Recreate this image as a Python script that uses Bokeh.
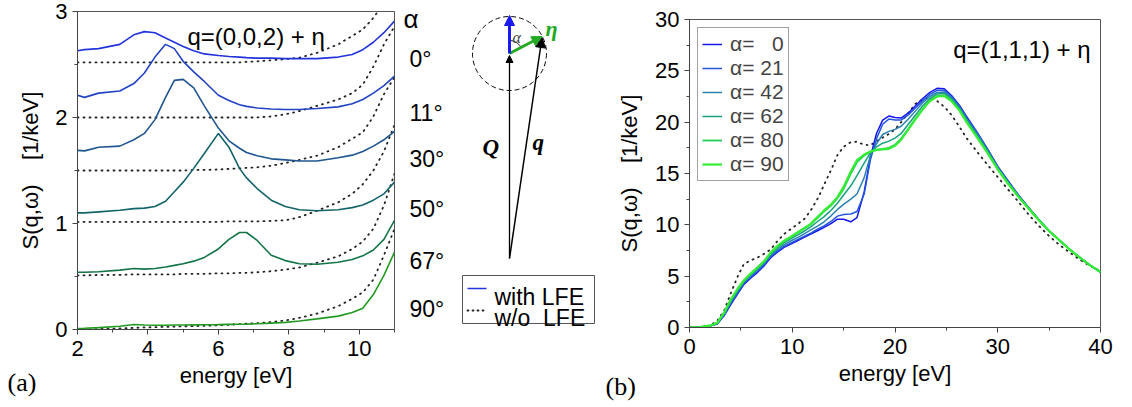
from bokeh.plotting import figure
from bokeh.layouts import row, column
from bokeh.models import Range1d, Arrow, NormalHead, Legend, LegendItem, FixedTicker
from bokeh.embed import file_html
from bokeh.resources import INLINE
from bokeh.core.properties import value
import numpy as np

SANS = "Liberation Sans"
SERIF = "Liberation Serif"

# ---------------- panel (a): q=(0,0,2)+eta ----------------
E_A = [2.0, 2.2, 2.6, 3.2, 3.6, 3.9, 4.2, 4.5, 4.75, 5.0, 5.3, 5.6, 6.0, 6.3, 6.6,
       6.8, 7.1, 7.5, 7.9, 8.3, 8.8, 9.4, 9.8, 10.1, 10.4, 10.7, 11.0]

LFE_0 = [2.63, 2.64, 2.65, 2.69, 2.78, 2.81, 2.80, 2.75, 2.71, 2.67, 2.63, 2.60, 2.585, 2.575, 2.57,
         2.565, 2.56, 2.56, 2.555, 2.555, 2.555, 2.57, 2.595, 2.64, 2.71, 2.80, 2.91]
NOLFE_0 = [2.52, 2.52, 2.52, 2.52, 2.52, 2.52, 2.52, 2.52, 2.52, 2.52, 2.52, 2.52, 2.52, 2.52, 2.52,
           2.525, 2.53, 2.54, 2.55, 2.565, 2.61, 2.69, 2.77, 2.83, 2.94, 3.08, 3.2]
LFE_11 = [2.21, 2.19, 2.23, 2.25, 2.32, 2.42, 2.57, 2.69, 2.65, 2.53, 2.43, 2.34, 2.21, 2.16, 2.12,
          2.105, 2.09, 2.08, 2.075, 2.075, 2.085, 2.10, 2.13, 2.17, 2.23, 2.30, 2.39]
NOLFE_11 = [2.0, 2.0, 2.0, 2.0, 2.0, 2.0, 2.0, 2.0, 2.0, 2.0, 2.0, 2.0, 2.0, 2.0, 2.0,
            2.0, 2.0, 2.01, 2.03, 2.06, 2.11, 2.17, 2.23, 2.31, 2.48, 2.69, 2.86]
LFE_30 = [1.69, 1.685, 1.72, 1.73, 1.79, 1.85, 1.98, 2.19, 2.35, 2.36, 2.28, 2.11, 1.90, 1.78, 1.71,
          1.67, 1.64, 1.61, 1.60, 1.59, 1.59, 1.62, 1.645, 1.68, 1.73, 1.79, 1.87]
NOLFE_30 = [1.5, 1.5, 1.5, 1.5, 1.5, 1.5, 1.5, 1.5, 1.5, 1.5, 1.505, 1.505, 1.51, 1.515, 1.52,
            1.525, 1.53, 1.545, 1.57, 1.6, 1.64, 1.72, 1.8, 1.86, 2.01, 2.22, 2.38]
LFE_50 = [1.10, 1.10, 1.11, 1.125, 1.14, 1.145, 1.16, 1.21, 1.30, 1.39, 1.52, 1.66, 1.85, 1.72, 1.52,
          1.43, 1.33, 1.22, 1.16, 1.13, 1.12, 1.13, 1.15, 1.175, 1.22, 1.28, 1.39]
NOLFE_50 = [1.015, 1.015, 1.015, 1.015, 1.015, 1.015, 1.015, 1.015, 1.015, 1.015, 1.015, 1.015, 1.015, 1.02, 1.02,
            1.02, 1.02, 1.025, 1.03, 1.06, 1.12, 1.2, 1.28, 1.37, 1.5, 1.68, 1.93]
LFE_67 = [0.54, 0.54, 0.545, 0.56, 0.575, 0.57, 0.575, 0.59, 0.605, 0.62, 0.645, 0.68, 0.76, 0.85, 0.915,
          0.915, 0.84, 0.70, 0.65, 0.62, 0.615, 0.635, 0.66, 0.695, 0.75, 0.85, 1.03]
NOLFE_67 = [0.51, 0.51, 0.515, 0.515, 0.52, 0.52, 0.52, 0.52, 0.52, 0.525, 0.525, 0.525, 0.53, 0.53, 0.535,
            0.535, 0.54, 0.55, 0.565, 0.585, 0.63, 0.69, 0.76, 0.83, 0.95, 1.17, 1.47]
LFE_90 = [0.01, 0.012, 0.018, 0.03, 0.047, 0.042, 0.04, 0.04, 0.042, 0.043, 0.044, 0.045, 0.046, 0.048, 0.05,
          0.051, 0.054, 0.06, 0.067, 0.08, 0.1, 0.126, 0.16, 0.2, 0.33, 0.51, 0.73]
NOLFE_90 = [0.0, 0.0, 0.005, 0.01, 0.015, 0.02, 0.022, 0.025, 0.027, 0.03, 0.032, 0.035, 0.04, 0.045, 0.05,
            0.055, 0.06, 0.07, 0.085, 0.11, 0.15, 0.22, 0.29, 0.35, 0.47, 0.7, 0.95]

ANGLE_LABELS = ["0°", "11°", "30°", "50°", "67°", "90°"]
COLORS_A = ["#2233dd", "#2244c4", "#1f5590", "#136468", "#137448", "#229a22"]
LFE_A = [LFE_0, LFE_11, LFE_30, LFE_50, LFE_67, LFE_90]
NOLFE_A = [NOLFE_0, NOLFE_11, NOLFE_30, NOLFE_50, NOLFE_67, NOLFE_90]

# ---------------- panel (b): q=(1,1,1)+eta ----------------
E_B = [0, 1, 2, 2.7, 3.4, 4, 4.7, 5.3, 6, 6.6, 7.3, 7.9, 8.5, 9.2, 9.8, 10.5, 11.2, 11.8, 12.5, 13.1,
       13.8, 14.4, 15, 15.7, 16.3, 17, 17.6, 18.2, 18.8, 19.4, 20, 20.6, 21.3, 22, 22.7, 23.4, 24.1, 24.8,
       25.5, 26.3, 27, 28, 29, 30, 31, 32, 33, 34, 35, 36, 37, 38, 39, 40]

B_A0 = [0, 0.02, 0.15, 0.35, 1.2, 2.2, 3.3, 4.2, 4.85, 5.35, 6.05, 6.8, 7.3, 7.8, 8.1, 8.45, 8.8, 9.1, 9.45, 9.75,
        10.15, 10.55, 10.55, 10.3, 10.7, 13.2, 16.6, 18.9, 20.2, 20.6, 20.45, 20.4, 20.9, 21.6, 22.3, 22.9, 23.3, 23.25,
        22.6, 21.6, 20.5, 19.0, 17.4, 15.7, 14.3, 12.9, 11.7, 10.5, 9.4, 8.5, 7.6, 6.8, 6.05, 5.4]
B_A21 = [0, 0.02, 0.16, 0.37, 1.25, 2.3, 3.4, 4.3, 4.95, 5.45, 6.15, 6.9, 7.4, 7.9, 8.2, 8.55, 8.9, 9.2, 9.6, 9.9,
         10.35, 10.85, 11.0, 11.05, 11.3, 13.0, 16.3, 18.4, 19.8, 20.3, 20.2, 20.2, 20.7, 21.4, 22.1, 22.7, 23.1, 23.1,
         22.5, 21.5, 20.4, 18.95, 17.35, 15.65, 14.25, 12.9, 11.7, 10.5, 9.4, 8.5, 7.6, 6.8, 6.05, 5.4]
B_A42 = [0, 0.02, 0.16, 0.4, 1.35, 2.45, 3.55, 4.45, 5.1, 5.6, 6.3, 7.05, 7.55, 8.05, 8.4, 8.75, 9.15, 9.5, 9.9, 10.3,
         10.9, 11.5, 12.0, 12.5, 13.0, 14.6, 16.7, 17.9, 18.8, 19.1, 19.3, 19.6, 20.3, 21.1, 21.9, 22.5, 22.9, 22.95,
         22.4, 21.4, 20.3, 18.85, 17.3, 15.6, 14.2, 12.85, 11.65, 10.5, 9.4, 8.5, 7.6, 6.8, 6.05, 5.4]
B_A62 = [0, 0.03, 0.17, 0.42, 1.42, 2.55, 3.65, 4.5, 5.2, 5.72, 6.4, 7.15, 7.7, 8.25, 8.6, 9.0, 9.4, 9.8, 10.35, 10.8,
         11.45, 12.1, 12.9, 13.8, 14.8, 16.0, 17.0, 17.6, 17.95, 18.15, 18.45, 18.9, 19.8, 20.7, 21.6, 22.3, 22.75, 22.8,
         22.25, 21.3, 20.15, 18.7, 17.15, 15.5, 14.1, 12.8, 11.6, 10.45, 9.4, 8.5, 7.6, 6.8, 6.05, 5.4]
B_A80 = [0, 0.03, 0.18, 0.44, 1.48, 2.65, 3.75, 4.55, 5.25, 5.8, 6.45, 7.25, 7.85, 8.4, 8.75, 9.2, 9.65, 10.05, 10.7, 11.3,
         11.9, 12.6, 13.5, 15.0, 16.1, 16.75, 17.1, 17.3, 17.4, 17.5, 17.8, 18.4, 19.35, 20.35, 21.3, 22.1, 22.55, 22.6,
         22.1, 21.15, 20.0, 18.55, 17.05, 15.45, 14.05, 12.75, 11.6, 10.45, 9.4, 8.5, 7.6, 6.8, 6.05, 5.4]
B_A90 = [0, 0.03, 0.18, 0.45, 1.5, 2.7, 3.8, 4.6, 5.3, 5.85, 6.5, 7.3, 7.9, 8.45, 8.8, 9.25, 9.7, 10.1, 10.8, 11.4,
         12.0, 12.7, 13.7, 15.2, 16.3, 16.85, 17.15, 17.3, 17.35, 17.4, 17.7, 18.3, 19.3, 20.3, 21.25, 22.05, 22.5, 22.55,
         22.05, 21.1, 19.95, 18.5, 17.0, 15.4, 14.0, 12.75, 11.6, 10.45, 9.4, 8.5, 7.6, 6.8, 6.05, 5.4]
B_NOLFE = [0, 0.02, 0.2, 0.65, 1.7, 3.3, 5.0, 6.2, 6.55, 6.8, 7.2, 7.6, 8.35, 9.1, 9.55, 10.05, 10.6, 11.4, 12.6, 13.9,
           15.4, 16.8, 17.6, 18.05, 18.1, 17.8, 17.75, 18.15, 18.5, 18.85, 19.3, 20.0, 20.9, 21.8, 22.25, 22.35, 22.05, 21.5,
           20.7, 19.5, 18.4, 17.1, 15.85, 14.65, 13.45, 12.25, 11.0, 9.9, 8.9, 8.05, 7.3, 6.6, 6.0, 5.5]

ALPHA_LABELS = ["α=\u00a0\u00a0\u00a00", "α= 21", "α= 42", "α= 62", "α= 80", "α= 90"]
COLORS_B = ["#1515ee", "#2456dd", "#2a80b0", "#15a07c", "#22cc55", "#33ee33"]
WIDTHS_B = [1.5, 1.5, 1.5, 1.5, 1.8, 2.2]
SERIES_B = [B_A0, B_A21, B_A42, B_A62, B_A80, B_A90]

Y_LABEL = "S(q,ω)\u00a0\u00a0\u00a0\u00a0[1/keV]"
X_LABEL = "energy [eV]"
DOT = "1 5"
H = 406


def style(p):
    p.xgrid.visible = False
    p.ygrid.visible = False
    p.outline_line_color = "#555555"
    p.outline_line_width = 1
    for ax in (p.xaxis[0], p.yaxis[0]):
        ax.axis_line_color = "#444444"
        ax.major_tick_line_color = "#444444"
        ax.minor_tick_line_color = "#444444"
        ax.major_tick_out = 5
        ax.major_tick_in = 0
        ax.minor_tick_out = 3
        ax.minor_tick_in = 0
        ax.major_label_text_font = SANS
        ax.major_label_text_font_size = "22px"
        ax.major_label_text_color = "black"
        ax.axis_label_text_font = SANS
        ax.axis_label_text_font_size = "22px"
        ax.axis_label_text_font_style = "normal"
        ax.axis_label_text_color = "black"


def blank(width, x0):
    p = figure(width=width, height=H, x_range=Range1d(x0, x0 + width), y_range=Range1d(H, 0),
               x_axis_type=None, y_axis_type=None, output_backend="svg", toolbar_location=None,
               min_border=0)
    p.outline_line_color = None
    p.xgrid.visible = False
    p.ygrid.visible = False
    return p


# ---------------- strip left of (a): y label and "(a)" ----------------
pl = blank(45, 0)
pl.text(x=[30], y=[170], text=[Y_LABEL], angle=np.pi / 2, text_font=value(SANS), text_font_size="22px",
        text_align="center", text_baseline="middle", text_color="black")
pl.text(x=[7], y=[382], text=["(a)"], text_font=value(SERIF), text_font_size="26px",
        text_align="left", text_baseline="middle", text_color="black")

# ---------------- figure (a) ----------------
pa = figure(width=355, height=H, x_range=Range1d(2, 11), y_range=Range1d(0, 3),
            output_backend="svg", toolbar_location=None,
            min_border_left=32, min_border_right=6, min_border_top=11, min_border_bottom=77)
style(pa)
pa.xaxis.ticker = FixedTicker(ticks=[2, 4, 6, 8, 10], minor_ticks=[3, 5, 7, 9, 11])
pa.yaxis.ticker = FixedTicker(ticks=[0, 1, 2, 3], minor_ticks=[0.5, 1.5, 2.5])
pa.xaxis.axis_label = X_LABEL
pa.xaxis.major_label_standoff = 6
pa.yaxis.major_label_standoff = 5
pa.xaxis.axis_label_standoff = 4

for nl in NOLFE_A:
    pa.line(E_A, nl, line_color="#222222", line_width=1.8, line_dash=DOT, line_cap="round")
for s, c in zip(LFE_A, COLORS_A):
    pa.line(E_A, s, line_color=c, line_width=1.6)

pa.text(x=[5.12], y=[2.767], text=["q=(0,0,2) + η"], text_font=value(SANS), text_font_size="24px",
        text_baseline="alphabetic", text_align="left", text_color="black")

# ---------------- middle: angle labels, sketch, legend, (b) y label ----------------
pm = blank(245, 400)

LABEL_X = 409
LABEL_Y = [58, 112, 158, 208, 260, 308]
pm.text(x=[403], y=[18], text=["α"], text_font=value(SANS), text_font_size="26px",
        text_baseline="alphabetic", text_color="black")
pm.text(x=[LABEL_X] * 6, y=LABEL_Y, text=ANGLE_LABELS, text_font=value(SANS), text_font_size="23px",
        text_baseline="alphabetic", text_align="left", text_color="black")

# sketch geometry (panel pixel units)
CX, CY, R = 509, 53, 37
TH = np.linspace(0, 2 * np.pi, 120)
pm.line(CX + R * np.cos(TH), CY + R * np.sin(TH), line_color="black", line_width=1, line_dash="5 3")
ORIGIN = (509, 258)
TIP_Q = (509, 55)
TIP_ETA = (541.5, 36)
TIP_BLUE = (509, 15)
pm.add_layout(Arrow(end=NormalHead(size=7, fill_color="black", line_color="black"),
                    x_start=ORIGIN[0], y_start=ORIGIN[1], x_end=TIP_Q[0], y_end=TIP_Q[1],
                    line_color="black", line_width=1.3))
pm.add_layout(Arrow(end=NormalHead(size=10, fill_color="black", line_color="black"),
                    x_start=ORIGIN[0], y_start=ORIGIN[1], x_end=TIP_ETA[0], y_end=TIP_ETA[1] + 1,
                    line_color="black", line_width=1.5))
pm.add_layout(Arrow(end=NormalHead(size=10, fill_color="#22aa22", line_color="#22aa22"),
                    x_start=CX, y_start=CY, x_end=TIP_ETA[0], y_end=TIP_ETA[1],
                    line_color="#22aa22", line_width=3))
pm.add_layout(Arrow(end=NormalHead(size=10, fill_color="#1a1aee", line_color="#1a1aee"),
                    x_start=CX, y_start=CY, x_end=TIP_BLUE[0], y_end=TIP_BLUE[1],
                    line_color="#1a1aee", line_width=3))
ARC_T = np.linspace(0, np.radians(61), 20)
pm.line(CX + 13 * np.sin(ARC_T), CY - 13 * np.cos(ARC_T), line_color="black", line_width=1)
pm.text(x=[512], y=[37], text=["α"], text_font=value(SERIF), text_font_style="italic",
        text_font_size="16px", text_color="#444444", text_baseline="alphabetic")
pm.text(x=[545], y=[28], text=["η"], text_font=value(SERIF), text_font_style="bold italic",
        text_font_size="22px", text_color="#22aa22", text_baseline="alphabetic")
pm.text(x=[482], y=[147], text=["Q"], text_font=value(SERIF), text_font_style="bold italic",
        text_font_size="23px", text_color="black", text_baseline="alphabetic")
pm.text(x=[532], y=[142], text=["q"], text_font=value(SERIF), text_font_style="bold italic",
        text_font_size="23px", text_color="black", text_baseline="alphabetic")

# LFE legend box
pm.quad(left=[462], right=[594], top=[275], bottom=[323], fill_color="white",
        line_color="#555555", line_width=1)
pm.line([467, 486], [288, 288], line_color="#2233dd", line_width=1.6)
pm.line([467, 486], [310, 310], line_color="#222222", line_width=1.8, line_dash="1 4", line_cap="round")
pm.text(x=[494, 494], y=[296, 317], text=["with LFE", "w/o\u00a0\u00a0LFE"], text_font=value(SANS),
        text_font_size="23px", text_baseline="alphabetic", text_color="black")

# y label of (b) and "(b)"
pm.text(x=[629], y=[173], text=[Y_LABEL], angle=np.pi / 2, text_font=value(SANS), text_font_size="22px",
        text_align="center", text_baseline="middle", text_color="black")
pm.text(x=[605], y=[386], text=["(b)"], text_font=value(SERIF), text_font_size="26px",
        text_align="left", text_baseline="middle", text_color="black")

# ---------------- figure (b) ----------------
pb = figure(width=479, height=H, x_range=Range1d(0, 40), y_range=Range1d(0, 30),
            output_backend="svg", toolbar_location=None,
            min_border_left=44, min_border_right=24, min_border_top=19, min_border_bottom=79)
style(pb)
pb.xaxis.ticker = FixedTicker(ticks=[0, 10, 20, 30, 40], minor_ticks=[5, 15, 25, 35])
pb.yaxis.ticker = FixedTicker(ticks=[0, 5, 10, 15, 20, 25, 30],
                              minor_ticks=[2.5, 7.5, 12.5, 17.5, 22.5, 27.5])
pb.xaxis.axis_label = X_LABEL
pb.xaxis.major_label_standoff = 6
pb.yaxis.major_label_standoff = 5
pb.xaxis.axis_label_standoff = 4

pb.line(E_B, B_NOLFE, line_color="#222222", line_width=1.8, line_dash=DOT, line_cap="round")
items = []
for s, c, w, lab in zip(SERIES_B, COLORS_B, WIDTHS_B, ALPHA_LABELS):
    r = pb.line(E_B, s, line_color=c, line_width=w)
    items.append(LegendItem(label=lab, renderers=[r]))
leg = Legend(items=items, location="top_left", margin=8, padding=4, spacing=0,
             glyph_width=20, glyph_height=22, label_height=22, label_standoff=8,
             label_text_font=SANS, label_text_font_size="21px",
             border_line_color="#444444", border_line_width=1)
pb.add_layout(leg)
pb.text(x=[39.04], y=[27.07], text=["q=(1,1,1) + η"], text_font=value(SANS), text_font_size="24px",
        text_baseline="alphabetic", text_align="right", text_color="black")

layout = row(column(pl), column(pa), column(pm), column(pb))
open("out.html", "w").write(file_html(layout, INLINE))
